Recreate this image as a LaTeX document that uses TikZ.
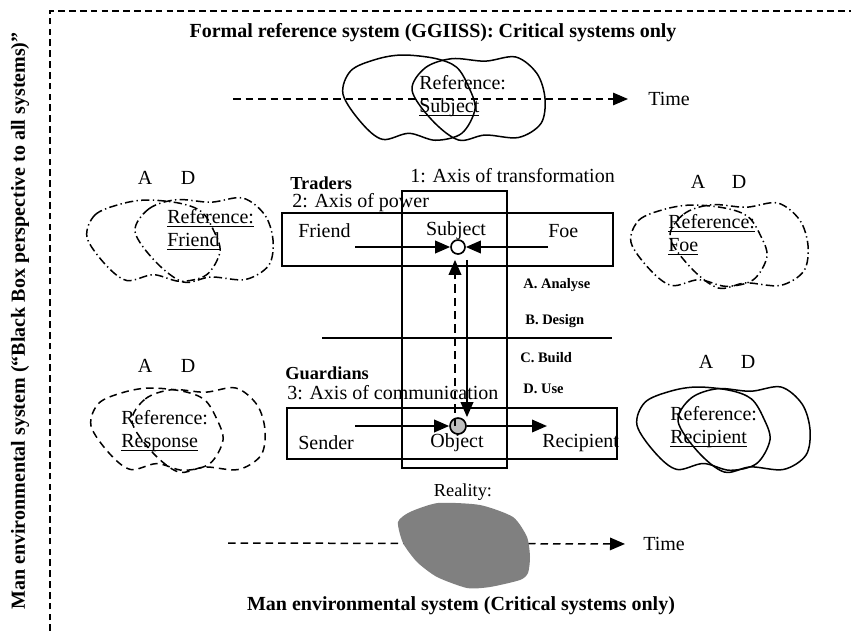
\documentclass[tikz,border=0pt]{standalone}
\usepackage{fontspec}
\setmainfont{Liberation Serif}
\usetikzlibrary{arrows.meta}

% underline that ignores descenders
\newcommand{\refline}[1]{\underline{\smash{#1}}}
% two overlapping outlines of a reference
\newcommand{\cloudA}[5]{\draw[#1,shift={(#2,#3)},xscale=#4,yscale=#5] plot[smooth cycle,tension=0.55] coordinates {(0,0.45) (0.06,0.18) (0.25,0.05) (0.45,0) (0.7,0.04) (0.86,0.14) (0.95,0.36) (1,0.62) (0.9,0.9) (0.7,0.98) (0.5,0.9) (0.3,0.97) (0.14,0.78)};}
\newcommand{\cloudD}[5]{\draw[#1,shift={(#2,#3)},xscale=#4,yscale=#5] plot[smooth cycle,tension=0.55] coordinates {(0,0.4) (0.1,0.13) (0.3,0.02) (0.55,0.05) (0.78,0) (0.94,0.2) (1,0.5) (0.97,0.8) (0.8,0.97) (0.55,0.94) (0.35,1) (0.15,0.76)};}

\begin{document}
\begin{tikzpicture}[x=0.6pt,y=-0.6pt,
    >={Triangle[length=9pt,width=7.5pt]},
    txt/.style={inner sep=0pt,font=\fontsize{12}{13.8}\selectfont},
    ttl/.style={inner sep=0pt,font=\bfseries\fontsize{12}{14}\selectfont},
    grp/.style={inner sep=0pt,anchor=west,font=\bfseries\fontsize{11}{13}\selectfont},
    stage/.style={inner sep=0pt,anchor=west,font=\bfseries\fontsize{8.7}{10}\selectfont},
    frm/.style={line width=0.7pt,dash pattern=on 4pt off 2.5pt},
    dashln/.style={line width=0.9pt,dash pattern=on 4.5pt off 3pt},
    dashdotln/.style={line width=0.9pt,dash pattern=on 5pt off 2pt on 0.8pt off 2pt},
    solidln/.style={line width=0.9pt},
    box/.style={line width=1pt},
    arr/.style={line width=1.2pt,->},
    dot/.style={circle,draw,line width=1pt,inner sep=0pt},
  ]
  \useasboundingbox (0,0) rectangle (851,631);

  % outer frame and titles
  \draw[frm] (50,631) -- (50,11) -- (851,11);
  \node[ttl,rotate=90,anchor=east] (sideTtl) at (20,32) {Man environmental system (“Black Box perspective to all systems)”};
  \node[ttl] (formalTtl) at (433,33) {Formal reference system (GGIISS): Critical systems only};
  \node[ttl] (manTtl) at (461,606) {Man environmental system (Critical systems only)};

  % reference: subject
  \node[txt,anchor=west] (timeTop) at (648,99) {Time};
  \coordinate (timeTopTail) at (233,99);
  \draw[dashln,->,shorten >=12pt] (timeTopTail) -- (timeTop.west);
  \cloudA{solidln}{343}{55}{132}{87}
  \cloudD{solidln}{412}{57}{133}{83}
  \node[txt,anchor=west,align=left] (refSubj) at (419,96) {Reference:\\\refline{Subject}};

  % reference: friend and foe
  \node[txt] (aFriend) at (145,178) {A};
  \node[txt] (dFriend) at (188,178) {D};
  \cloudA{dashdotln}{87}{200}{133}{83}
  \cloudD{dashdotln}{135}{198}{138}{84}
  \node[txt,anchor=west,align=left] (refFriend) at (167,237) {\refline{Reference:}\\\refline{Friend}};
  \node[txt] (aFoe) at (698,182) {A};
  \node[txt] (dFoe) at (739,182) {D};
  \cloudA{dashdotln}{631}{205}{136}{83}
  \cloudD{dashdotln}{670}{203}{138}{85}
  \node[txt,anchor=west,align=left] (refFoe) at (668,242) {\refline{Reference:}\\\refline{Foe}};

  % reference: response and recipient
  \node[txt] (aResp) at (145,366) {A};
  \node[txt] (dResp) at (188,366) {D};
  \cloudA{dashln}{91}{388}{132}{84}
  \cloudD{dashln}{132}{388}{133}{84}
  \node[txt,anchor=west,align=left] (refResp) at (121,431) {Reference:\\\refline{Response}};
  \node[txt] (aRecip) at (706,362) {A};
  \node[txt] (dRecip) at (748,362) {D};
  \cloudA{solidln}{637}{387}{133}{85}
  \cloudD{solidln}{678}{387}{132}{85}
  \node[txt,anchor=west,align=left] (refRecip) at (670,427) {Reference:\\\refline{Recipient}};

  % axes
  \draw[box] (402,191) rectangle (507,468);
  \draw[box] (282,213) rectangle (613,266);
  \draw[box] (287,408) rectangle (617,459);
  \draw[box] (322,338) -- (612,338);
  \node[txt,anchor=west] (transLbl) at (410,176) {1: Axis of transformation};
  \node[grp] (traders) at (290,183) {Traders};
  \node[txt,anchor=west] (powerLbl) at (292,203) {2: Axis of power};
  \node[grp] (guardians) at (285,373) {Guardians};
  \node[txt,anchor=west] (commLbl) at (287,393) {3: Axis of communication};

  \node[txt,anchor=west] (friend) at (298,231) {Friend};
  \node[txt] (subject) at (456,231) {Subject};
  \node[txt,anchor=west] (foe) at (548,231) {Foe};
  \node[txt,anchor=west] (sender) at (298,443) {Sender};
  \node[txt] (object) at (457,443) {Object};
  \node[txt,anchor=west] (recipient) at (542,443) {Recipient};

  \node[stage] (stA) at (523,285) {A. Analyse};
  \node[stage] (stB) at (525,321) {B. Design};
  \node[stage] (stC) at (520,358) {C. Build};
  \node[stage] (stD) at (523,389) {D. Use};

  \node[dot,minimum size=8.4pt] (subj) at (458,247) {};
  \node[dot,minimum size=9.6pt,fill=gray!50] (obj) at (458,426) {};

  \coordinate (friendTail) at (355,247);
  \coordinate (foeTail) at (548,247);
  \coordinate (senderTail) at (355,426);
  \coordinate (recipTip) at (547,426);
  \draw[arr] (friendTail) -- (subj.west);
  \draw[arr] (foeTail) -- (subj.east);
  \draw[arr] (senderTail) -- (obj.west);
  \draw[arr] (obj.east) -- (recipTip);
  \draw[arr,shorten <=3pt] ([xshift=5.4pt]subj.south) -- ([xshift=5.4pt]obj.north);
  \draw[arr,dash pattern=on 5pt off 3pt,shorten >=3pt] ([xshift=-1.8pt]obj.center) -- ([xshift=-1.8pt]subj.south);

  % reality
  \node[txt,font=\fontsize{11}{13}\selectfont] (reality) at (463,492) {Reality:};
  \node[txt,anchor=west] (timeBot) at (643,544) {Time};
  \coordinate (timeBotTail) at (228,543);
  \draw[dashln,->,shorten >=10.8pt] (timeBotTail) -- (timeBot.west);
  \fill[gray] plot[smooth cycle,tension=0.4] coordinates {(398,522) (410,512) (438,503) (480,505) (513,517) (527,537) (530,557) (528,573) (520,580) (490,587) (467,588) (437,577) (417,562) (403,543)};
\end{tikzpicture}
\end{document}
